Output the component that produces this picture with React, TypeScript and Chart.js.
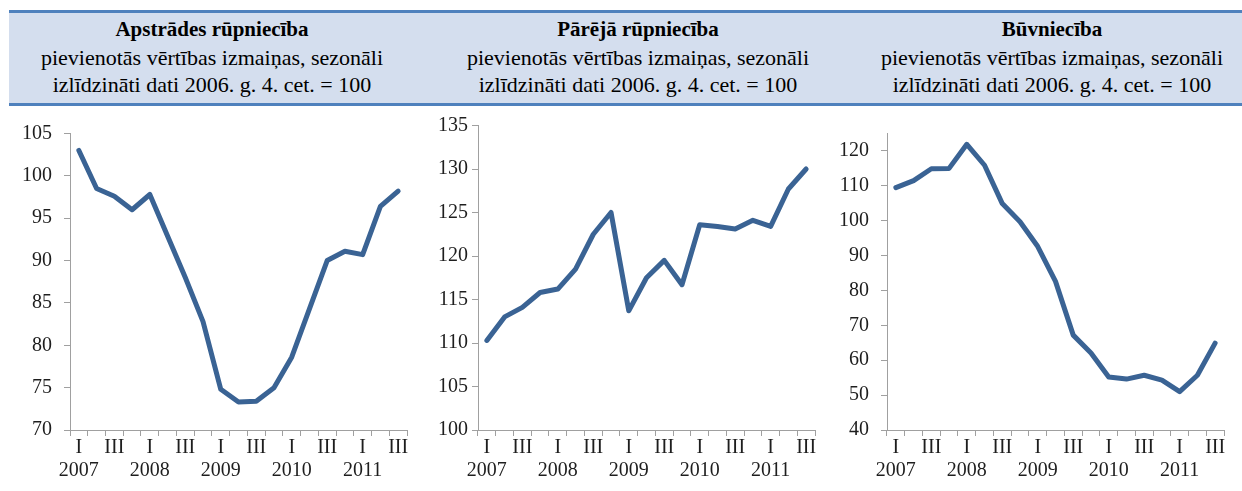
import React, { useEffect, useRef } from "react";
import { Chart, registerables } from "chart.js";

Chart.register(...registerables);

// ---- data ----
const quarters: string[] = [
  "2007 Q1", "2007 Q2", "2007 Q3", "2007 Q4",
  "2008 Q1", "2008 Q2", "2008 Q3", "2008 Q4",
  "2009 Q1", "2009 Q2", "2009 Q3", "2009 Q4",
  "2010 Q1", "2010 Q2", "2010 Q3", "2010 Q4",
  "2011 Q1", "2011 Q2", "2011 Q3",
];

const tickLabels: (string | string[])[] = [
  ["I", "2007"], "", "III", "",
  ["I", "2008"], "", "III", "",
  ["I", "2009"], "", "III", "",
  ["I", "2010"], "", "III", "",
  ["I", "2011"], "", "III",
];

const manufacturing: number[] = [
  103.0, 98.5, 97.6, 96.0, 97.8, 92.9, 88.0, 82.8, 74.8, 73.3,
  73.4, 75.0, 78.6, 84.3, 90.0, 91.1, 90.7, 96.4, 98.2,
];

const otherIndustry: number[] = [
  110.3, 113.0, 114.1, 115.8, 116.2, 118.5, 122.5, 125.0, 113.7, 117.5,
  119.5, 116.7, 123.6, 123.4, 123.1, 124.1, 123.4, 127.7, 130.0,
];

const construction: number[] = [
  109.5, 111.5, 114.9, 115.0, 121.9, 115.9, 104.9, 99.7, 92.6, 82.6,
  67.2, 62.1, 55.2, 54.6, 55.7, 54.3, 51.0, 55.7, 64.9,
];

const manufacturingTicks: number[] = [70, 75, 80, 85, 90, 95, 100, 105];
const otherIndustryTicks: number[] = [100, 105, 110, 115, 120, 125, 130, 135];
const constructionTicks: number[] = [40, 50, 60, 70, 80, 90, 100, 110, 120];

const titles: string[] = ["Apstrādes rūpniecība", "Pārējā rūpniecība", "Būvniecība"];
const subtitle1 = "pievienotās vērtības izmaiņas, sezonāli";
const subtitle2 = "izlīdzināti dati 2006. g. 4. cet. = 100";

// ---- styles ----
const LINE = "#3A6394";
const AXIS = "#A0A0A0";
const TXT = "#1e1e1e";
const FONT = "'Liberation Serif', 'Times New Roman', serif";

type PanelProps = {
  values: number[];
  ticks: number[];
  min: number;
  max: number;
  left: number;
  width: number;
  yWidth: number;
  padRight: number;
  padTop: number;
  yPad: number;
};

function Panel(p: PanelProps) {
  const ref = useRef<HTMLCanvasElement | null>(null);
  useEffect(() => {
    if (!ref.current) return;
    const tickFont = { family: FONT, size: 20, lineHeight: 1.15 };
    const chart = new Chart(ref.current, {
      type: "line",
      data: {
        labels: quarters,
        datasets: [
          {
            data: p.values,
            borderColor: LINE,
            borderWidth: 5,
            pointRadius: 0,
            tension: 0,
            fill: false,
            borderJoinStyle: "round",
            borderCapStyle: "round",
          },
        ],
      },
      options: {
        animation: false,
        responsive: false,
        maintainAspectRatio: false,
        layout: { padding: { left: 0, right: p.padRight, top: p.padTop, bottom: 0 } },
        plugins: { legend: { display: false }, tooltip: { enabled: false } },
        scales: {
          x: {
            type: "category",
            offset: true,
            grid: {
              offset: true,
              drawOnChartArea: false,
              drawTicks: true,
              tickLength: 6,
              color: AXIS,
              lineWidth: 1,
            },
            border: { display: true, color: AXIS, width: 1 },
            ticks: {
              autoSkip: false,
              maxRotation: 0,
              minRotation: 0,
              padding: 0,
              color: TXT,
              font: tickFont,
              callback: (_v: any, i: number) => tickLabels[i],
            },
            afterFit: (s: any) => {
              s.height = 61;
            },
          },
          y: {
            type: "linear",
            min: p.min,
            max: p.max,
            grid: {
              drawOnChartArea: false,
              drawTicks: true,
              tickLength: 6,
              color: AXIS,
              lineWidth: 1,
            },
            border: { display: true, color: AXIS, width: 1 },
            ticks: {
              padding: p.yPad,
              color: TXT,
              font: tickFont,
            },
            afterBuildTicks: (s: any) => {
              s.ticks = p.ticks.map((v) => ({ value: v }));
            },
            afterFit: (s: any) => {
              s.width = p.yWidth;
            },
          },
        },
      },
    } as any);
    return () => chart.destroy();
  }, []);
  return (
    <canvas
      ref={ref}
      width={p.width}
      height={381}
      style={{ position: "absolute", left: p.left, top: 110, width: p.width, height: 381 }}
    />
  );
}

const centers = [212, 638, 1052];

export default function App() {
  return (
    <div
      style={{
        position: "absolute",
        left: 0,
        top: 0,
        width: 1242,
        height: 491,
        overflow: "hidden",
        background: "#ffffff",
      }}
    >
      <div
        style={{
          position: "absolute",
          left: 9,
          top: 10,
          width: 1233,
          height: 96,
          boxSizing: "border-box",
          background: "#D4DEEE",
          borderTop: "3px solid #4F81BD",
          borderBottom: "3px solid #4F81BD",
        }}
      />
      {titles.map((t, i) => (
        <div
          key={t}
          style={{
            position: "absolute",
            left: centers[i] - 210,
            width: 420,
            top: 16,
            textAlign: "center",
            fontFamily: FONT,
            color: "#000",
            lineHeight: "27.5px",
            whiteSpace: "nowrap",
          }}
        >
          <div style={{ fontWeight: "bold", fontSize: 21 }}>{t}</div>
          <div style={{ fontSize: 22 }}>{subtitle1}</div>
          <div style={{ fontSize: 22 }}>{subtitle2}</div>
        </div>
      ))}
      <Panel values={manufacturing} ticks={manufacturingTicks} min={70} max={105} left={0} width={414} yWidth={70} padRight={7} padTop={14} yPad={12} />
      <Panel values={otherIndustry} ticks={otherIndustryTicks} min={100} max={135} left={414} width={414} yWidth={64} padRight={13} padTop={14} yPad={4} />
      <Panel values={construction} ticks={constructionTicks} min={40} max={125} left={828} width={414} yWidth={59} padRight={18} padTop={13} yPad={12} />
    </div>
  );
}
